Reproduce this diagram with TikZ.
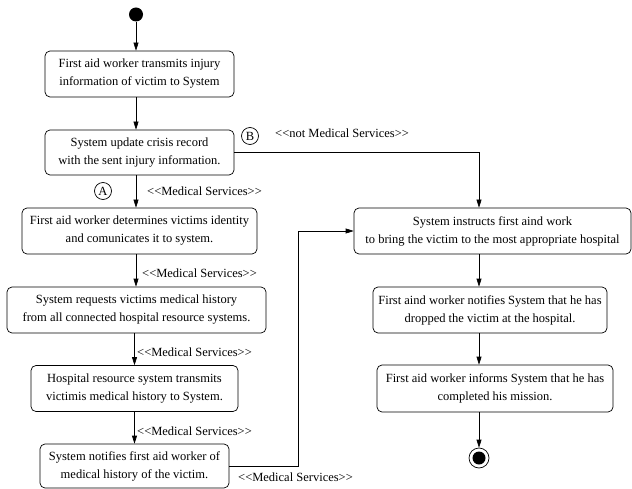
\documentclass[tikz,border=0pt]{standalone}
\usepackage{amsmath}
\usepackage{fontspec}
\setmainfont{Liberation Serif}
\usetikzlibrary{arrows.meta}

\begin{document}
\begin{tikzpicture}[x=1bp,y=-1bp,
	act/.style={draw,rounded corners=5bp,align=center,inner sep=0pt,line width=0.7bp,minimum height=46bp},
	flow/.style={-{Triangle[length=8bp,width=5bp]},line width=0.7bp},
	guard/.style={anchor=west,inner sep=0pt},
	tag/.style={draw,circle,inner sep=0pt,minimum size=17bp,line width=0.7bp}]
	\fontsize{12.5bp}{18bp}\selectfont
	\useasboundingbox (0,0) rectangle (632,489);
	\node[circle,fill=black,inner sep=0pt,minimum size=14bp] (start) at (136,14.5) {};
	\node[act,minimum width=189bp] (transmit) at (139.5,74) {First aid worker transmits injury\\information of victim to System};
	\node[act,minimum width=189bp,minimum height=45bp] (update) at (139.5,152.5) {System update crisis record\\with the sent injury information.};
	\node[act,minimum width=235bp] (identity) at (139.5,231) {First aid worker determines victims identity\\and comunicates it to system.};
	\node[act,minimum width=259bp] (request) at (136.5,310) {System requests victims medical history\\from all connected hospital resource systems.};
	\node[act,minimum width=207bp] (history) at (134.5,388.5) {Hospital resource system transmits\\victimis medical history to System.};
	\node[act,minimum width=189bp,minimum height=44bp] (notify) at (134.5,466) {System notifies first aid worker of\\medical history of the victim.};
	\node[act,minimum width=277bp] (instruct) at (492.5,231) {System instructs first aind work\\to bring the victim to the most appropriate hospital};
	\node[act,minimum width=234bp] (dropped) at (490,310) {First aind worker notifies System that he has\\dropped the victim at the hospital.};
	\node[act,minimum width=236bp,minimum height=47bp] (mission) at (495,388.5) {First aid worker informs System that he has\\completed his mission.};
	\node[circle,draw,line width=0.7bp,inner sep=0pt,minimum size=20bp] (end) at (479,458) {};
	\fill (end) circle (6.5bp);
	\coordinate (bend) at (298,466);

	\draw[flow] (start) -- (transmit.north -| start);
	\draw[flow] (transmit.south -| start) -- (update.north -| start);
	\draw[flow] (update.south -| start) -- (identity.north -| start);
	\draw[flow] (identity.south -| start) -- (request.north -| start);
	\draw[flow] (request.south -| history) -- (history.north);
	\draw[flow] (history.south) -- (notify.north);
	\draw[flow] (update.east) -| (instruct.north -| end);
	\draw[flow] (notify.east) -- (bend) |- (instruct.west);
	\draw[flow] (instruct.south -| end) -- (dropped.north -| end);
	\draw[flow] (dropped.south -| end) -- (mission.north -| end);
	\draw[flow] (mission.south -| end) -- (end);

	\node[tag] (A) at (103,191) {A};
	\node[tag] (B) at (250,136) {B};
	\node[guard] (g1) at (275,133) {{<}{<}not Medical Services{>}{>}};
	\node[guard] (g2) at (147,191) {{<}{<}Medical Services{>}{>}};
	\node[guard] (g3) at (142,273) {{<}{<}Medical Services{>}{>}};
	\node[guard] (g4) at (137,352) {{<}{<}Medical Services{>}{>}};
	\node[guard] (g5) at (137,431) {{<}{<}Medical Services{>}{>}};
	\node[guard] (g6) at (238,477) {{<}{<}Medical Services{>}{>}};
\end{tikzpicture}
\end{document}
